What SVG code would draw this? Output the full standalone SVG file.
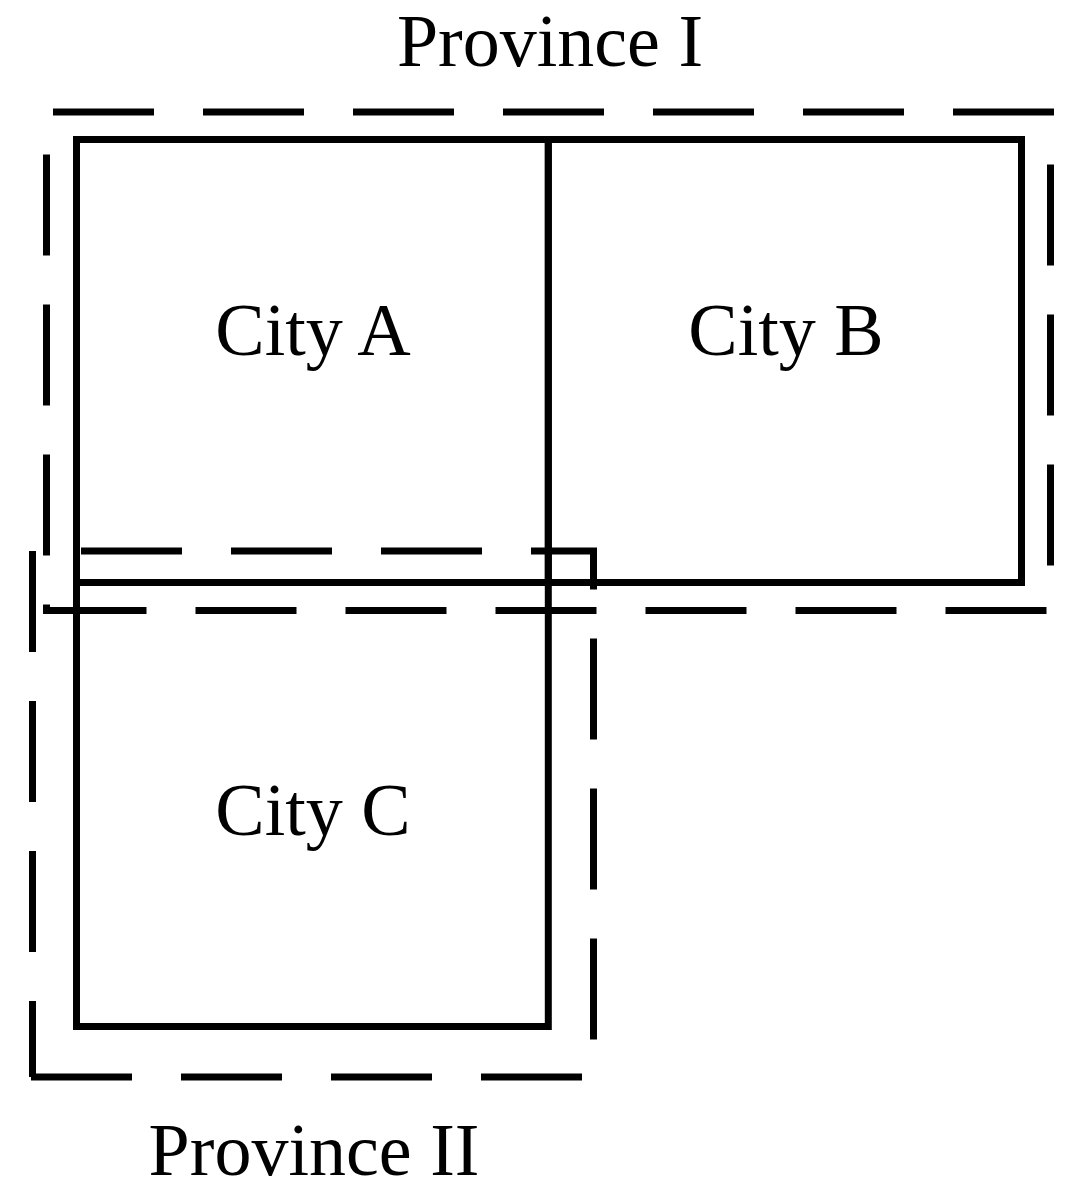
<svg xmlns="http://www.w3.org/2000/svg" width="1081" height="1197" viewBox="0 0 1081 1197">
<style>
.city{fill:none;stroke:#000;stroke-width:7}
.prov{fill:none;stroke:#000;stroke-width:7;stroke-dasharray:101 49}
text{font-family:"Liberation Serif","Times New Roman",serif;font-size:74px;fill:#000;text-anchor:middle}
</style>
<rect width="1081" height="1197" fill="#fff"/>
<g id="province-1">
<path class="prov" style="stroke-dashoffset:95" d="M46.5 610.5 V112 H1050.5 V610.5 H46.5 Z"/>
<text x="550" y="66">Province I</text>
</g>
<g id="province-2">
<path class="prov" d="M32.5 551 V1077"/>
<path class="prov" d="M81 551 H593.5 V1077 H29"/>
<text x="314" y="1175">Province II</text>
</g>
<g id="city-a">
<rect class="city" x="76.5" y="139.5" width="471.8" height="443"/>
<text x="313" y="355">City A</text>
</g>
<g id="city-b">
<rect class="city" x="548.3" y="139.5" width="473.2" height="443"/>
<text x="786" y="355">City B</text>
</g>
<g id="city-c">
<rect class="city" x="76.5" y="582.5" width="471.8" height="444"/>
<text x="313" y="835">City C</text>
</g>
<g id="connectors"></g>
</svg>
